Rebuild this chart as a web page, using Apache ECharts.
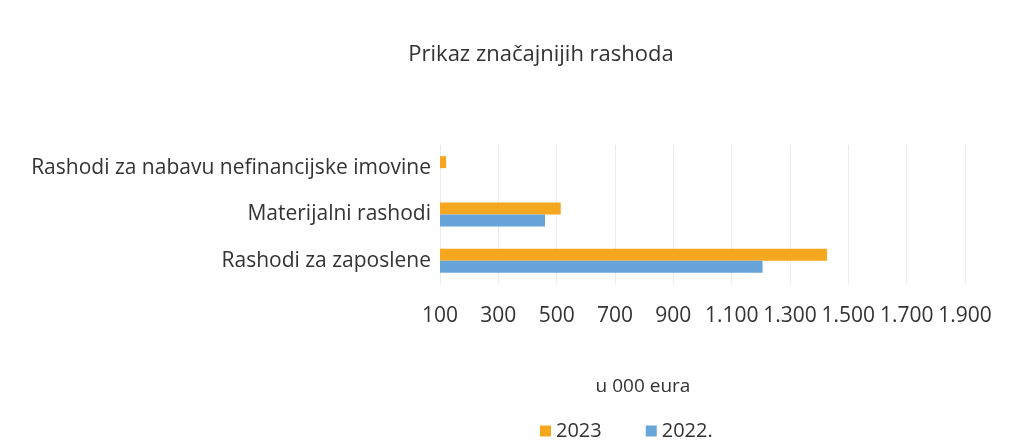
<!DOCTYPE html>
<html>
<head>
<meta charset="utf-8">
<script src="https://cdn.jsdelivr.net/npm/echarts@6/dist/echarts.min.js"></script>
<style>
  html, body { margin: 0; padding: 0; background: #fff; }
  #chart { width: 1033px; height: 448px; }
</style>
</head>
<body>
<div id="chart"></div>
<script>
// kategorije (odozdo prema gore)
var categories = ['Rashodi za zaposlene', 'Materijalni rashodi', 'Rashodi za nabavu nefinancijske imovine'];
var values2022 = [1206, 460, 100];
var values2023 = [1427, 514, 121];
var xTicks = [100, 300, 500, 700, 900, 1100, 1300, 1500, 1700, 1900];

var font = 'Open Sans';
var chart = echarts.init(document.getElementById('chart'), null, { renderer: 'canvas' });

function fmt(v) {
  return String(v).replace(/\B(?=(\d{3})+(?!\d))/g, '.');
}

var option = {
  backgroundColor: '#fff',
  animation: false,
  title: [{
    text: 'Prikaz značajnijih rashoda',
    left: 536,
    top: 39,
    textAlign: 'center',
    textStyle: { fontFamily: font, fontSize: 22, fontWeight: 'normal', color: '#333' }
  }, {
    text: 'u 000 eura',
    left: 638,
    top: 372,
    textAlign: 'center',
    textStyle: { fontFamily: font, fontSize: 19, fontWeight: 'normal', color: '#333' }
  }],
  legend: {
    data: ['2023', '2022.'],
    left: 535,
    top: 416,
    itemWidth: 11,
    itemHeight: 11,
    itemGap: 44,
    icon: 'rect',
    textStyle: { fontFamily: font, fontSize: 20, color: '#333' }
  },
  grid: { left: 440, right: 68, top: 145, bottom: 164 },
  xAxis: {
    type: 'value',
    min: 100,
    max: 1900,
    axisLine: { show: false },
    axisTick: { show: false, customValues: xTicks },
    splitLine: { show: true, lineStyle: { color: '#ececec', width: 1 } },
    axisLabel: {
      customValues: xTicks,
      formatter: fmt,
      margin: 22,
      fontFamily: font, fontSize: 21, color: '#333'
    }
  },
  yAxis: {
    type: 'category',
    data: categories,
    axisLine: { show: false },
    axisTick: { show: false },
    axisLabel: { margin: 9, fontFamily: font, fontSize: 21, color: '#333' }
  },
  series: [{
    name: '2023',
    type: 'bar',
    data: values2023,
    barWidth: 12,
    barGap: '0%',
    itemStyle: { color: '#f5a81f' }
  }, {
    name: '2022.',
    type: 'bar',
    data: values2022,
    barWidth: 12,
    barGap: '0%',
    itemStyle: { color: '#67a4da' }
  }]
};

chart.setOption(option);
</script>
</body>
</html>
